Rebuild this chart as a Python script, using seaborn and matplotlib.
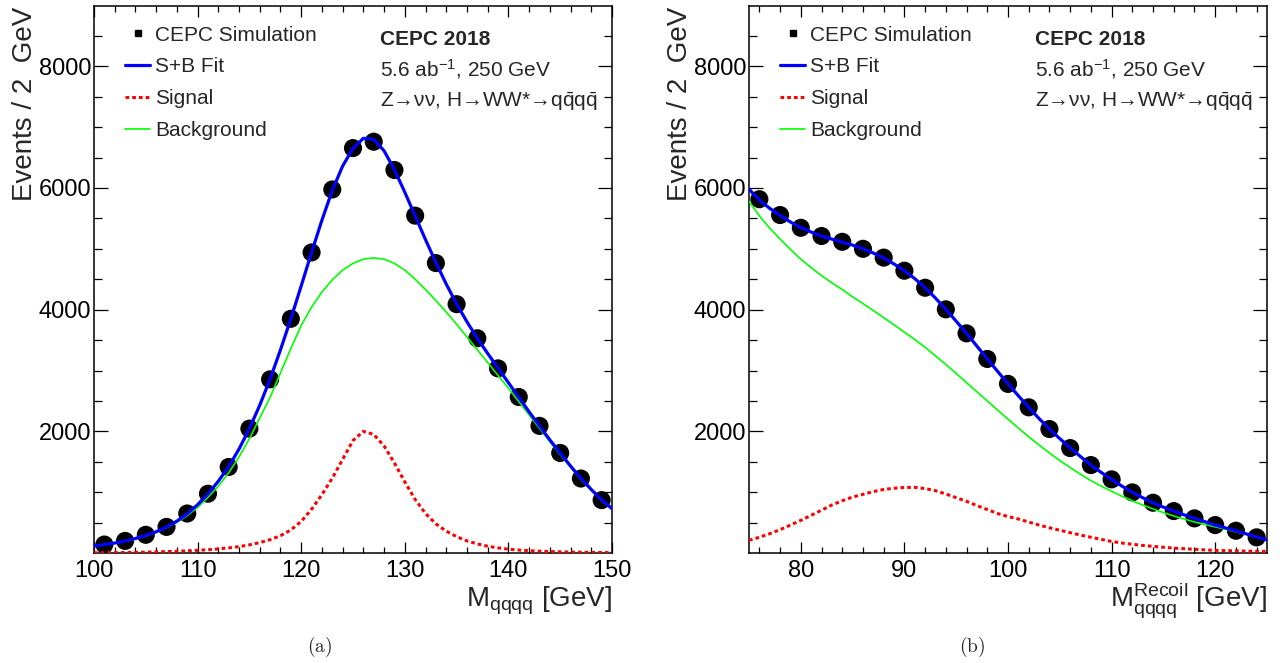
import numpy as np
import pandas as pd
import matplotlib
matplotlib.use("Agg")
import matplotlib.pyplot as plt
from matplotlib.lines import Line2D
from matplotlib.ticker import MultipleLocator
import seaborn as sns

# ---------------- data: panel (a) ----------------
mass_bins = [101, 103, 105, 107, 109, 111, 113, 115, 117, 119, 121, 123, 125,
             127, 129, 131, 133, 135, 137, 139, 141, 143, 145, 147, 149]
mass_events = [140, 200, 300, 430, 650, 975, 1415, 2045, 2855, 3850, 4940, 5975, 6655,
               6760, 6295, 5545, 4765, 4090, 3530, 3035, 2565, 2090, 1645, 1225, 870]
mass_curve_x = list(range(100, 151))
mass_fit = [115, 140, 165, 198, 240, 290, 350, 428, 525, 645,
            795, 972, 1180, 1420, 1710, 2045, 2430, 2860, 3340, 3850,
            4390, 4940, 5470, 5960, 6360, 6650, 6815, 6800, 6610, 6300,
            5930, 5540, 5150, 4775, 4420, 4095, 3800, 3530, 3280, 3040,
            2800, 2560, 2320, 2090, 1860, 1645, 1430, 1230, 1045, 875, 730]
mass_signal = [4, 5, 7, 9, 12, 15, 19, 24, 30, 37,
               45, 55, 68, 85, 105, 135, 172, 220, 285, 380,
               520, 720, 960, 1230, 1540, 1850, 2000, 1950, 1760, 1480,
               1170, 880, 650, 480, 360, 270, 200, 150, 112, 85,
               64, 50, 39, 31, 25, 20, 16, 13, 11, 9, 7]
mass_background = [117, 140, 165, 195, 232, 280, 340, 415, 505, 615,
                   750, 915, 1100, 1320, 1580, 1880, 2220, 2560, 2960, 3360,
                   3740, 4040, 4290, 4490, 4650, 4760, 4830, 4850, 4830, 4760,
                   4650, 4500, 4330, 4150, 3960, 3760, 3550, 3340, 3130, 2920,
                   2710, 2490, 2270, 2050, 1830, 1620, 1410, 1210, 1030, 860, 720]

# ---------------- data: panel (b) ----------------
recoil_bins = [76, 78, 80, 82, 84, 86, 88, 90, 92, 94, 96, 98, 100,
               102, 104, 106, 108, 110, 112, 114, 116, 118, 120, 122, 124]
recoil_events = [5815, 5555, 5345, 5210, 5115, 5000, 4855, 4640, 4360, 4005, 3610, 3190, 2780,
                 2395, 2038, 1725, 1446, 1211, 997, 827, 690, 570, 460, 367, 258]
recoil_curve_x = list(range(75, 126))
recoil_fit = [5980, 5800, 5665, 5550, 5440, 5350, 5275, 5210, 5160, 5110,
              5060, 5000, 4930, 4850, 4750, 4640, 4510, 4360, 4190, 4005,
              3810, 3610, 3400, 3190, 2985, 2782, 2585, 2394, 2210, 2038,
              1880, 1731, 1585, 1446, 1325, 1211, 1100, 997, 910, 827,
              755, 690, 628, 570, 515, 460, 413, 365, 315, 265, 215]
recoil_signal = [210, 260, 318, 385, 460, 537, 620, 705, 790, 860,
                 920, 965, 1010, 1045, 1065, 1078, 1080, 1060, 1025, 970,
                 910, 850, 780, 715, 650, 600, 560, 510, 460, 415,
                 375, 335, 295, 260, 225, 190, 165, 145, 125, 110,
                 95, 82, 72, 62, 52, 44, 40, 36, 32, 29, 27]
recoil_background = [5780, 5540, 5340, 5160, 4990, 4830, 4690, 4560, 4440, 4330,
                     4210, 4100, 3985, 3870, 3750, 3630, 3510, 3380, 3240, 3100,
                     2950, 2800, 2650, 2500, 2350, 2200, 2055, 1910, 1775, 1645,
                     1520, 1405, 1295, 1190, 1100, 1015, 935, 860, 790, 725,
                     665, 610, 560, 510, 470, 430, 390, 350, 305, 260, 215]

legend_labels = ["CEPC Simulation", "S+B Fit", "Signal", "Background"]
info_lines = ["CEPC 2018",
              r"5.6 ab$^{\mathrm{-1}}$, 250 GeV",
              "Z\u2192\u03bd\u03bd, H\u2192WW*\u2192q$\\bar{\\mathrm{q}}$q$\\bar{\\mathrm{q}}$"]
y_label = "Events / 2  GeV"
x_labels = [r"M$_{\mathrm{qqqq}}$ [GeV]", r"M$^{\mathrm{Recoil}}_{\mathrm{qqqq}}$ [GeV]"]
captions = ["(a)", "(b)"]

# ---------------- style ----------------
sns.set_theme(style="ticks")
plt.rcParams["font.family"] = ["Liberation Sans", "DejaVu Sans"]
plt.rcParams["mathtext.fontset"] = "custom"
plt.rcParams["mathtext.rm"] = "Liberation Sans"
plt.rcParams["mathtext.it"] = "Liberation Sans:italic"
plt.rcParams["mathtext.bf"] = "Liberation Sans:bold"
plt.rcParams["mathtext.sf"] = "Liberation Sans"
plt.rcParams["axes.linewidth"] = 1.1

BLUE = "#0000ff"
RED = "#ff0000"
GREEN = "#00ff00"

fig = plt.figure(figsize=(12.82, 6.63), dpi=100)
ax_a = fig.add_axes([94 / 1282, 1 - 553 / 663, 518 / 1282, 547 / 663])
ax_b = fig.add_axes([749 / 1282, 1 - 553 / 663, 518 / 1282, 547 / 663])

panels = [
    (ax_a, mass_bins, mass_events, mass_curve_x, mass_fit, mass_signal, mass_background, (100, 150)),
    (ax_b, recoil_bins, recoil_events, recoil_curve_x, recoil_fit, recoil_signal, recoil_background, (75, 125)),
]

for i, (ax, bx, by, cx, fit, sig, bkg, xlim) in enumerate(panels):
    pts = pd.DataFrame({"x": bx, "y": by})
    curves = pd.DataFrame({"x": cx, "fit": fit, "sig": sig, "bkg": bkg})
    sns.scatterplot(data=pts, x="x", y="y", ax=ax, color="black", s=170,
                    edgecolor="none", zorder=2, legend=False)
    sns.lineplot(data=curves, x="x", y="bkg", ax=ax, color=GREEN, lw=1.2,
                 zorder=3, legend=False, estimator=None, sort=False)
    sns.lineplot(data=curves, x="x", y="sig", ax=ax, color=RED, lw=2.2,
                 zorder=3, legend=False, estimator=None, sort=False)
    ax.lines[-1].set_linestyle((0, (1.2, 1.0)))
    sns.lineplot(data=curves, x="x", y="fit", ax=ax, color=BLUE, lw=2.3,
                 zorder=4, legend=False, estimator=None, sort=False)

    ax.set_xlim(*xlim)
    ax.set_ylim(1, 8990)
    ax.xaxis.set_major_locator(MultipleLocator(10))
    ax.xaxis.set_minor_locator(MultipleLocator(2))
    ax.yaxis.set_major_locator(MultipleLocator(2000))
    ax.yaxis.set_minor_locator(MultipleLocator(500))
    ax.tick_params(axis="both", which="both", direction="in", top=True, right=True,
                   colors="black", labelsize=17, width=0.9)
    ax.tick_params(axis="x", which="major", length=8, pad=5)
    ax.tick_params(axis="x", which="minor", length=4.5)
    ax.tick_params(axis="y", which="major", length=10, pad=2)
    ax.tick_params(axis="y", which="minor", length=5.5)
    for s in ax.spines.values():
        s.set_visible(True)
        s.set_color("black")

    ax.set_xlabel(x_labels[i], fontsize=20, ha="right", va="baseline")
    ax.xaxis.set_label_coords(1.0, -0.097)
    ax.set_ylabel(y_label, fontsize=20, ha="right", va="center")
    ax.yaxis.set_label_coords(-0.134, 0.998)

    handles = [
        Line2D([], [], ls="none", marker="s", color="black", markersize=5),
        Line2D([], [], color=BLUE, lw=2.3),
        Line2D([], [], color=RED, lw=2.2, ls=(0, (1.2, 1.0))),
        Line2D([], [], color=GREEN, lw=1.2),
    ]
    ax.legend(handles, legend_labels, loc="upper left", bbox_to_anchor=(0.060, 0.964),
              frameon=False, fontsize=15, handlelength=1.2, handletextpad=0.25,
              labelspacing=0.61, borderpad=0, borderaxespad=0)

    ax.text(0.552, 0.929, info_lines[0], transform=ax.transAxes, fontsize=15,
            fontweight="bold", ha="left", va="baseline")
    ax.text(0.552, 0.872, info_lines[1], transform=ax.transAxes, fontsize=15,
            ha="left", va="baseline")
    ax.text(0.552, 0.815, info_lines[2], transform=ax.transAxes, fontsize=15,
            ha="left", va="baseline")

fig.text(320 / 1282, 1 - 647 / 663, r"$\mathrm{(a)}$", math_fontfamily="cm",
         fontsize=14, ha="center", va="center")
fig.text(972 / 1282, 1 - 647 / 663, r"$\mathrm{(b)}$", math_fontfamily="cm",
         fontsize=14, ha="center", va="center")

fig.savefig("out.png", dpi=100, facecolor="white")
